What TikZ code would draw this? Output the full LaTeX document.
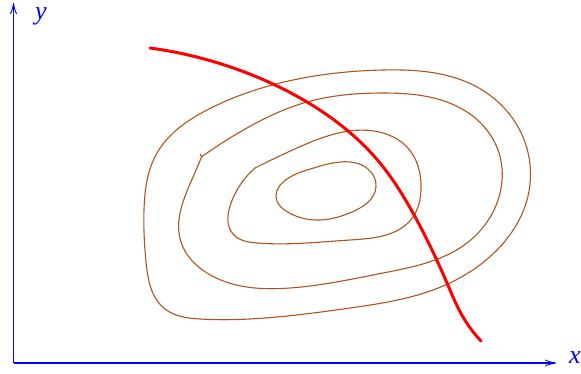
\documentclass[tikz,border=0pt]{standalone}
\usepackage{fontspec}
\setmainfont{Liberation Serif}
\usetikzlibrary{arrows.meta,hobby}
\definecolor{contour}{RGB}{176,84,28}
\tikzset{
  axis/.style={blue, line width=1.1pt, -{Classical TikZ Rightarrow[length=11pt,width=7pt]}},
  level/.style={contour, line width=1.1pt},
  path line/.style={red, line width=3pt, line cap=round},
  axislabel/.style={blue, inner sep=0pt, font=\fontsize{26}{28}\selectfont\itshape},
}
\begin{document}
\begin{tikzpicture}[x=1pt,y=-1pt]
\useasboundingbox (0,0) rectangle (581,373);
\coordinate (O) at (13.5,363);
\coordinate (Xend) at (556,363);
\coordinate (Yend) at (13.5,3);
\draw[axis] (O) -- (Xend);
\draw[axis] (O) -- (Yend);
\node[axislabel, anchor=base west] (ylab) at (35,19.5) {y};
\node[axislabel, anchor=base west] (xlab) at (569,363.5) {x};
% inner ellipse
\draw[level, use Hobby shortcut, closed=true]
 (277,201) .. (307,170) .. (340,162) .. (368,169) .. (376,187) .. (352,212)
 .. (320,220) .. (286,211);
% second contour
\draw[level, use Hobby shortcut]
 (255,168) .. (297,148) .. (383,133) .. (407,147) .. (421,190) .. (413,217)
 .. (350,240) .. (257,243) .. (233,234) .. (231,203) .. (255,168);
% third contour
\draw[level, use Hobby shortcut]
 (201.7,156.7) .. (240,132) .. (307,102) .. (383,93) .. (467,112) .. (498,150)
 .. (497,203) .. (467,243) .. (383,273) .. (290,288) .. (207,273) .. (181,242)
 .. (193,177) .. (201.7,156.7);
\draw[level] (201.7,156.7) -- (200,154);
% outer contour
\draw[level, use Hobby shortcut, closed=true]
 (144,210) .. (157,153) .. (207,110) .. (280,83) .. (383,70) .. (477,87)
 .. (523,137) .. (527,200) .. (497,250) .. (433,290) .. (350,308) .. (265,318)
 .. (200,319) .. (165,309) .. (146,262);
% red path
\draw[path line, use Hobby shortcut]
 (150,48) .. (257,77) .. (307,102) .. (380,163) .. (413,213) .. (447,283)
 .. (463,317) .. (481,341);
\end{tikzpicture}
\end{document}
